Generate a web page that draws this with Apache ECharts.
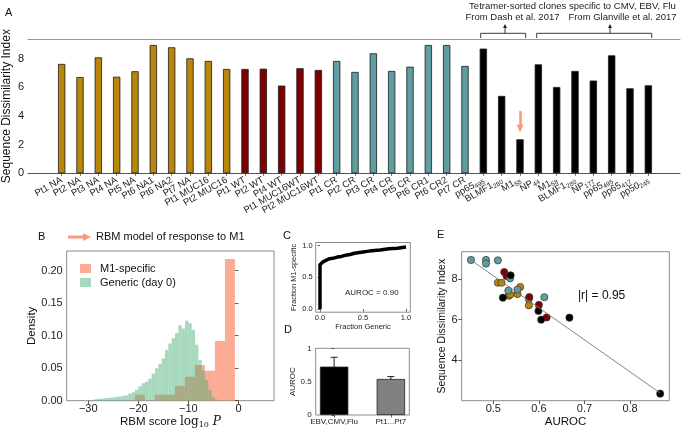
<!DOCTYPE html>
<html><head><meta charset="utf-8">
<script src="https://cdn.jsdelivr.net/npm/echarts@6/dist/echarts.min.js"></script>
<style>html,body{margin:0;padding:0;background:#fff}#c{width:683px;height:430px}</style>
</head><body><div id="c"></div>
<script>
// ---------- Panel A data ----------
const catsA = ['Pt1 NA','Pt2 NA','Pt3 NA','Pt4 NA','Pt5 NA','Pt6 NA1','Pt6 NA2','Pt7 NA','Pt1 MUC16','Pt2 MUC16',
  'Pt1 WT','Pt2 WT','Pt4 WT','Pt1 MUC16WT','Pt2 MUC16WT',
  'Pt1 CR','Pt2 CR','Pt3 CR','Pt4 CR','Pt5 CR','Pt6 CR1','Pt6 CR2','Pt7 CR',
  'pp65_495','BLMF1_280','M1_58','NP_44','M1_58','BLMF1_280','NP_177','pp65_495','pp65_417','pp50_245'];
const sdiNA  = [7.63,6.72,8.09,6.74,7.12,8.95,8.79,8.02,7.84,7.28];
const sdiWT  = [7.28,7.30,6.12,7.33,7.21];
const sdiCR  = [7.84,7.07,8.37,7.14,7.44,8.95,8.95,7.49];
const sdiTet = [8.70,5.40,2.37,7.60,6.02,7.14,6.47,8.23,5.93,6.14];
const ticksA = [0,2,4,6,8];

// ---------- Panel B data ----------
const m1Edges   = [-20.7,-18.7,-16.7,-14.7,-12.7,-10.7,-8.7,-6.7,-4.7,-2.7,-0.7];
const m1Density = [0.009,0,0.009,0.009,0.023,0.037,0.055,0.046,0.092,0.218];
const genStart = -30, genWidth = 2/3;
const genDensity = [0.001,0.0015,0.0025,0.003,0.0035,0.004,0.0045,0.005,0.006,0.0065,0.0075,0.008,0.011,0.013,0.017,0.022,0.027,0.029,0.034,0.042,0.050,0.057,0.065,0.078,0.088,0.096,0.104,0.116,0.111,0.123,0.119,0.109,0.086,0.063,0.047,0.032,0.016,0.006,0.002];
const ticksBx = [-30,-20,-10,0];
const ticksBy = [0,0.05,0.10,0.15,0.20];

// ---------- Panel C data ----------
const rocX = [0,0,0.01,0.03,0.05,0.10,0.15,0.20,0.25,0.30,0.35,0.40,0.50,0.55,0.60,0.70,0.80,0.90,1.00];
const rocY = [0,0.70,0.72,0.74,0.77,0.79,0.80,0.82,0.83,0.85,0.86,0.88,0.90,0.91,0.92,0.93,0.95,0.96,0.98];
const ticksC = [0,0.5,1];

// ---------- Panel D data ----------
const dCats = ['EBV,CMV,Flu','Pt1...Pt7'];
const dMean = [0.725,0.54];
const dErr  = [0.14,0.036];
const ticksDy = [0,0.5,1];

// ---------- Panel E data ----------
const eNAx  = [0.510,0.518,0.534,0.537,0.553,0.559,0.578,0.578];
const eNAy  = [7.83,7.83,7.19,7.24,7.27,7.62,7.02,6.71];
const eWTx  = [0.524,0.529,0.579,0.600,0.617];
const eWTy  = [8.36,8.16,7.12,6.73,6.11];
const eCRx  = [0.451,0.484,0.484,0.510,0.537,0.533,0.553,0.612];
const eCRy  = [8.96,8.96,8.78,8.94,8.05,7.44,7.49,7.11];
const eTetx = [0.538,0.521,0.599,0.605,0.667,0.866];
const eTety = [8.20,7.09,6.43,6.00,6.10,2.33];
const fitX  = [0.452,0.866];
const fitY  = [8.94,2.36];
const ticksEx = [0.5,0.6,0.7,0.8];
const ticksEy = [4,6,8];

// ---------- styling ----------
const FONT = '"Liberation Sans", Arial, sans-serif';
const SERIF = '"DejaVu Serif", "Liberation Serif", serif';
const GOLD = '#b8860b', RED = '#800000', TEAL = '#5f9ea0', BLK = '#000000';
const ORANGE = 'rgba(250,128,90,0.65)', GREEN = 'rgba(70,175,120,0.47)';
const FRAME = '#8c8c8c';

// each group occupies its own slice of the category axis; other slots empty
const groupsA = [sdiNA, sdiWT, sdiCR, sdiTet];
const totalA = catsA.length;
let offset = 0;
const seriesDataA = groupsA.map(arr => {
  const d = new Array(totalA).fill('-');
  arr.forEach((v,i) => { d[offset+i] = v; });
  offset += arr.length;
  return d;
});

function labA(name){
  const p = name.split('_');
  return p.length > 1 ? '{n|' + p[0] + '}{s|' + p[1] + '}' : '{n|' + name + '}';
}
function barSeries(name, data, color, extra){
  return Object.assign({
    type:'bar', name, xAxisIndex:6, yAxisIndex:5, stack:'A', data,
    barWidth:7.3, itemStyle:{color, borderColor:'#1a1a1a', borderWidth:0.8}
  }, extra || {});
}
function histSeries(name, data, color, xi, yi){
  return {
    type:'custom', name, xAxisIndex:xi, yAxisIndex:yi, data, clip:true,
    itemStyle:{color},
    encode:{x:[0,1], y:2},
    renderItem(params, api){
      const p0 = api.coord([api.value(0), 0]);
      const p1 = api.coord([api.value(1), api.value(2)]);
      return {type:'rect', shape:{x:p0[0], y:p1[1], width:p1[0]-p0[0], height:p0[1]-p1[1]}, style:{fill:color}};
    }
  };
}
const m1Data = m1Density.map((h,i)=>[m1Edges[i], m1Edges[i+1], h]);
const genData = genDensity.map((h,i)=>[genStart+i*genWidth, genStart+(i+1)*genWidth, h]);

function frameGrid(g){ return Object.assign({show:true, borderColor:FRAME, borderWidth:1, backgroundColor:'rgba(0,0,0,0)', outerBoundsMode:'none', containLabel:false}, g); }
function valAxis(o){
  return Object.assign({
    type:'value', splitLine:{show:false}, axisLine:{show:false},
    nameTextStyle:{color:'#111', fontFamily:FONT}
  }, o);
}
function ticks(vals, len){ return {show:true, length:len, customValues:vals, lineStyle:{color:'#333', width:0.8}}; }
function labels(vals, fs, margin, fmt){ return {show:true, customValues:vals, fontSize:fs, margin, color:'#222', fontFamily:FONT, formatter:fmt, showMinLabel:true, showMaxLabel:true, hideOverlap:false}; }

const option = {
  animation:false,
  textStyle:{fontFamily:FONT},
  grid:[
    {left:28, top:39, width:652, height:134.3, outerBoundsMode:'none', containLabel:false},
    frameGrid({left:66.7, top:251, width:207.3, height:149.7}),
    frameGrid({left:315.7, top:242.5, width:94.6, height:69.7}),
    frameGrid({left:315.7, top:348.3, width:93.6, height:66.7}),
    frameGrid({left:461.7, top:251.7, width:207.6, height:149}),
    {left:52.5, top:39, width:605, height:134.3, outerBoundsMode:'none', containLabel:false}
  ],
  legend:{
    left:75, top:258, orient:'vertical', itemWidth:11, itemHeight:9, itemGap:3,
    selectedMode:false,
    textStyle:{fontSize:11, color:'#111', fontFamily:FONT, padding:[0,0,0,4]},
    data:[{name:'M1-specific', icon:'rect'},{name:'Generic (day 0)', icon:'rect'}]
  },
  xAxis:[
    // 0: panel A frame bottom line
    valAxis({gridIndex:0, min:0, max:1, axisLine:{show:true, lineStyle:{color:'#555', width:1}},
      axisTick:{show:false}, axisLabel:{show:false}}),
    // 1: panel A frame top line
    valAxis({gridIndex:0, min:0, max:1, position:'top',
      axisLine:{show:true, lineStyle:{color:'#999', width:1}}, axisTick:{show:false}, axisLabel:{show:false}}),
    valAxis({gridIndex:1, min:-34.3, max:7.1,
      axisTick:ticks(ticksBx, 3.5), axisLabel:labels(ticksBx, 11, 3, v => v < 0 ? '\u2212' + Math.abs(v) : String(v)),
      name:'{a|RBM score }{b|log}{c|10}{d| P}', nameLocation:'middle', nameGap:12,
      nameTextStyle:{rich:{a:{fontSize:11.5, fontFamily:FONT, color:'#111'}, b:{fontSize:12, fontFamily:SERIF, color:'#111'},
        c:{fontSize:8, fontFamily:SERIF, color:'#111', padding:[6,0,0,0]}, d:{fontSize:12, fontFamily:SERIF, fontStyle:'italic', color:'#111'}}}
    }),
    valAxis({gridIndex:2, min:-0.05, max:1.05,
      axisTick:ticks(ticksC, 2.5), axisLabel:labels(ticksC, 7.5, 1.5, v => v.toFixed(1)),
      name:'Fraction Generic', nameLocation:'middle', nameGap:11, nameTextStyle:{fontSize:7.5, color:'#222'}
    }),
    valAxis({gridIndex:3, min:-0.325, max:1.325,
      axisTick:ticks([0,1], 2.5), axisLabel:labels([0,1], 8, 3, v => dCats[Math.round(v)])
    }),
    valAxis({gridIndex:4, min:0.4307, max:0.886,
      axisTick:ticks(ticksEx, 3.5), axisLabel:labels(ticksEx, 11, 3, v => v.toFixed(1)),
      name:'AUROC', nameLocation:'middle', nameGap:14, nameTextStyle:{fontSize:11.5, color:'#111'}
    }),
    // 6: panel A categories
    {gridIndex:5, type:'category', data:catsA, boundaryGap:true,
      axisLine:{show:false}, splitLine:{show:false},
      axisTick:{show:true, alignWithLabel:true, interval:0, length:2.5, lineStyle:{color:'#444', width:0.8}},
      axisLabel:{interval:0, rotate:30, margin:6, color:'#222', fontFamily:FONT, fontSize:9.5, hideOverlap:false,
        formatter: v => labA(v),
        rich:{n:{fontSize:9.5, fontFamily:FONT, color:'#222'}, s:{fontSize:6.5, fontFamily:FONT, color:'#222', padding:[5,0,0,0]}}}
    }
  ],
  yAxis:[
    valAxis({gridIndex:0, min:0, max:9.37, axisTick:{show:false},
      axisLabel:labels(ticksA, 11, 4, v => String(v)),
      name:'Sequence Dissimilarity Index', nameLocation:'middle', nameGap:15, nameMoveOverlap:false,
      nameTextStyle:{fontSize:12, color:'#111'}
    }),
    valAxis({gridIndex:1, min:0, max:0.2303,
      axisTick:ticks(ticksBy, 3.5), axisLabel:labels(ticksBy, 11, 4, v => v.toFixed(2)),
      name:'Density', nameLocation:'middle', nameGap:29, nameTextStyle:{fontSize:11.5, color:'#111'}
    }),
    valAxis({gridIndex:2, min:-0.05, max:1.05,
      axisTick:ticks(ticksC, 2.5), axisLabel:labels(ticksC, 7.5, 3, v => v.toFixed(1)),
      name:'Fraction M1-specific', nameLocation:'middle', nameGap:17, nameTextStyle:{fontSize:7.5, color:'#222'}
    }),
    valAxis({gridIndex:3, min:0, max:1,
      axisTick:ticks(ticksDy, 2.5), axisLabel:labels(ticksDy, 8, 4, v => String(v)),
      name:'AUROC', nameLocation:'middle', nameGap:16, nameTextStyle:{fontSize:8, color:'#222'}
    }),
    valAxis({gridIndex:4, min:1.98, max:9.37,
      axisTick:ticks(ticksEy, 3.5), axisLabel:labels(ticksEy, 11, 4, v => String(v)),
      name:'Sequence Dissimilarity Index', nameLocation:'middle', nameGap:14, nameTextStyle:{fontSize:10.5, color:'#111'}
    }),
    // 5: panel A bar values (same scale as yAxis 0, hidden)
    valAxis({gridIndex:5, min:0, max:9.37, axisTick:{show:false}, axisLabel:{show:false}})
  ],
  series:[
    barSeries('NA', seriesDataA[0], GOLD),
    barSeries('WT', seriesDataA[1], RED),
    barSeries('CR', seriesDataA[2], TEAL),
    barSeries('Tetramer', seriesDataA[3], BLK, {
      markLine:{silent:true, animation:false, symbol:['none','triangle'], symbolSize:[7,8],
        lineStyle:{color:'#fc9a7a', width:2.6, type:'solid'}, label:{show:false},
        data:[[{coord:[25,4.35]},{coord:[25,3.12]}]]}
    }),
    histSeries('M1-specific', m1Data, ORANGE, 2, 1),
    histSeries('Generic (day 0)', genData, GREEN, 2, 1),
    {type:'line', name:'ROC', xAxisIndex:3, yAxisIndex:2, data:rocX.map((x,i)=>[x, rocY[i]]),
      showSymbol:false, symbol:'none', lineStyle:{color:'#000', width:3.5, join:'round'}, clip:true},
    {type:'bar', name:'AUROC bars', xAxisIndex:4, yAxisIndex:3, barWidth:28.4,
      data:dMean.map((m,i)=>({value:[i, m], itemStyle:{color: i === 0 ? '#000000' : '#808080'}})),
      itemStyle:{borderColor:'#222', borderWidth:0.8}},
    {type:'custom', name:'err', xAxisIndex:4, yAxisIndex:3, data:dMean.map((m,i)=>[i, m - dErr[i], m + dErr[i]]),
      encode:{x:0, y:[1,2]},
      renderItem(params, api){
        const lo = api.coord([api.value(0), api.value(1)]);
        const hi = api.coord([api.value(0), api.value(2)]);
        const w = 3.5;
        return {type:'group', children:[
          {type:'line', shape:{x1:lo[0], y1:lo[1], x2:hi[0], y2:hi[1]}, style:{stroke:'#222', lineWidth:1}},
          {type:'line', shape:{x1:lo[0]-w, y1:lo[1], x2:lo[0]+w, y2:lo[1]}, style:{stroke:'#222', lineWidth:1}},
          {type:'line', shape:{x1:hi[0]-w, y1:hi[1], x2:hi[0]+w, y2:hi[1]}, style:{stroke:'#222', lineWidth:1}}
        ]};
      }},
    {type:'line', name:'fit', xAxisIndex:5, yAxisIndex:4, data:fitX.map((x,i)=>[x, fitY[i]]),
      symbol:'none', lineStyle:{color:'#777', width:0.9}},
    ...[[eNAx,eNAy,GOLD],[eWTx,eWTy,RED],[eCRx,eCRy,TEAL],[eTetx,eTety,BLK]].map(([xs,ys,c],k)=>({
      type:'scatter', name:'E'+k, xAxisIndex:5, yAxisIndex:4, symbolSize:7.2,
      data:xs.map((x,i)=>[x, ys[i]]),
      itemStyle:{color:c, borderColor:'#333', borderWidth:0.7, opacity:1}
    }))
  ],
  graphic:[
    {type:'text', left:5, top:7, style:{text:'A', fontSize:11, fill:'#111', fontFamily:FONT}},
    {type:'text', left:38, top:231, style:{text:'B', fontSize:11, fill:'#111', fontFamily:FONT}},
    {type:'text', left:283, top:230, style:{text:'C', fontSize:11, fill:'#111', fontFamily:FONT}},
    {type:'text', left:284, top:324, style:{text:'D', fontSize:11, fill:'#111', fontFamily:FONT}},
    {type:'text', left:437, top:229, style:{text:'E', fontSize:11, fill:'#111', fontFamily:FONT}},
    {type:'text', x:572.5, y:6, style:{text:'Tetramer-sorted clones specific to CMV, EBV, Flu', fontSize:9.5, fill:'#222', fontFamily:FONT, align:'center', verticalAlign:'middle'}},
    {type:'text', x:512.5, y:17, style:{text:'From Dash et al. 2017', fontSize:9.5, fill:'#222', fontFamily:FONT, align:'center', verticalAlign:'middle'}},
    {type:'text', x:622.5, y:17, style:{text:'From Glanville et al. 2017', fontSize:9.5, fill:'#222', fontFamily:FONT, align:'center', verticalAlign:'middle'}},
    {type:'polyline', shape:{points:[[480.7,38],[480.7,33.3],[525.7,33.3],[525.7,38]]}, style:{stroke:'#222', lineWidth:0.9, fill:null}},
    {type:'polyline', shape:{points:[[536.7,38],[536.7,33.3],[651.7,33.3],[651.7,38]]}, style:{stroke:'#222', lineWidth:0.9, fill:null}},
    {type:'line', shape:{x1:505, y1:33.3, x2:505, y2:27}, style:{stroke:'#222', lineWidth:0.9}},
    {type:'polygon', shape:{points:[[503,28],[505,24],[507,28]]}, style:{fill:'#222'}},
    {type:'line', shape:{x1:610, y1:33.3, x2:610, y2:27}, style:{stroke:'#222', lineWidth:0.9}},
    {type:'polygon', shape:{points:[[608,28],[610,24],[612,28]]}, style:{fill:'#222'}},
    {type:'line', shape:{x1:68, y1:237, x2:84, y2:237}, style:{stroke:'#fc9a7a', lineWidth:3}},
    {type:'polygon', shape:{points:[[83,233],[91,237],[83,241]]}, style:{fill:'#fc9a7a'}},
    {type:'text', x:96, y:237, style:{text:'RBM model of response to M1', fontSize:11, fill:'#111', fontFamily:FONT, verticalAlign:'middle'}},
    {type:'text', x:345, y:293, style:{text:'AUROC = 0.90', fontSize:8, fill:'#222', fontFamily:FONT, verticalAlign:'middle'}},
    {type:'text', x:578, y:296, style:{text:'|r| = 0.95', fontSize:12, fill:'#111', fontFamily:FONT, verticalAlign:'middle'}}
  ]
};
const chart = echarts.init(document.getElementById('c'), null, {renderer:'canvas'});
chart.setOption(option);
</script>
</body></html>
